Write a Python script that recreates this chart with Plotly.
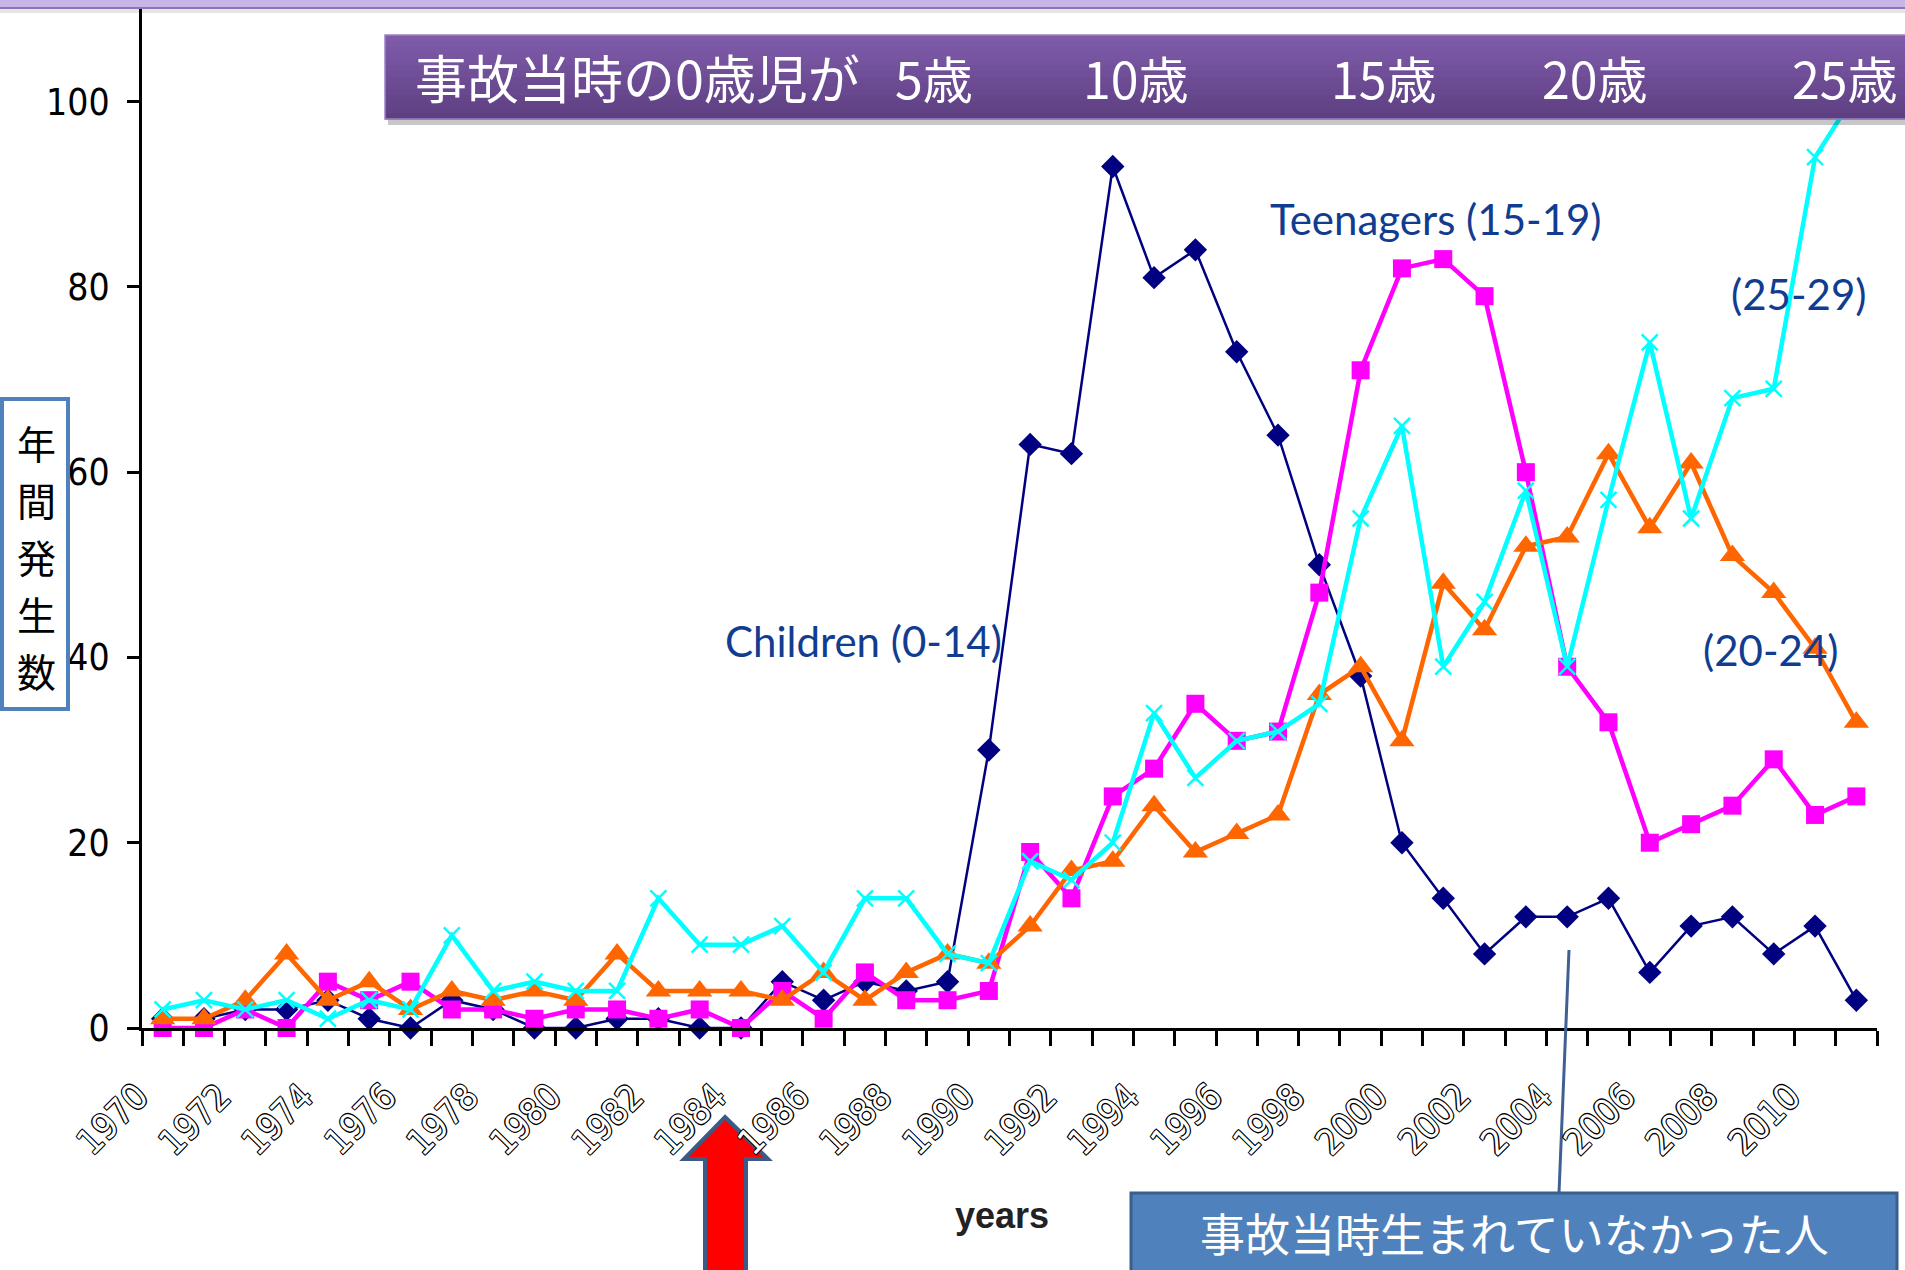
import plotly.graph_objects as go

# ---------------- data ----------------
years = list(range(1970, 2012))

children_0_14 = [1, 1, 2, 2, 3, 1, 0, 3, 2, 0,
                 0, 1, 1, 0, 0, 5, 3, 5, 4, 5,
                 30, 63, 62, 93, 81, 84, 73, 64, 50, 38,
                 20, 14, 8, 12, 12, 14, 6, 11, 12, 8,
                 11, 3]
teen_15_19 = [0, 0, 2, 0, 5, 3, 5, 2, 2, 1,
              2, 2, 1, 2, 0, 4, 1, 6, 3, 3,
              4, 19, 14, 25, 28, 35, 31, 32, 47, 71,
              82, 83, 79, 60, 39, 33, 20, 22, 24, 29,
              23, 25]
adult_20_24 = [1, 1, 3, 8, 3, 5, 2, 4, 3, 4,
               3, 8, 4, 4, 4, 3, 6, 3, 6, 8,
               7, 11, 17, 18, 24, 19, 21, 23, 36, 39,
               31, 48, 43, 52, 53, 62, 54, 61, 51, 47,
               41, 33]
adult_25_29 = [2, 3, 2, 3, 1, 3, 2, 10, 4, 5,
               4, 4, 14, 9, 9, 11, 6, 14, 14, 8,
               7, 18, 16, 20, 34, 27, 31, 32, 35, 55,
               65, 39, 46, 58, 39, 57, 74, 55, 68, 69,
               94, 101]

y_tick_values = [0, 20, 40, 60, 80, 100]
x_tick_labels = ["1970", "1972", "1974", "1976", "1978", "1980", "1982",
                 "1984", "1986", "1988", "1990", "1992", "1994", "1996",
                 "1998", "2000", "2002", "2004", "2006", "2008", "2010"]

series_names = ["Children (0-14)", "Teenagers (15-19)", "(20-24)", "(25-29)"]
banner_texts = ["事故当時の0歳児が", "5歳", "10歳", "15歳", "20歳", "25歳"]
y_title_chars = ["年", "間", "発", "生", "数"]
box_text = "事故当時生まれていなかった人"

# ---------------- geometry helpers (pixel -> paper) ----------------
W_PX, H_PX = 1905, 1270
L, R, T, B = 142, 1877, 9, 1028
PW, PH = R - L, B - T


def fx(p):
    return (p - L) / PW


def fy(p):
    return (B - p) / PH


LABEL_BLUE = "#123c8f"

fig = go.Figure()

fig.add_trace(go.Scatter(
    x=years, y=children_0_14, mode="lines+markers", name=series_names[0],
    line=dict(color="#000080", width=2.5),
    marker=dict(symbol="diamond", size=18, color="#000080"),
    cliponaxis=False))
fig.add_trace(go.Scatter(
    x=years, y=teen_15_19, mode="lines+markers", name=series_names[1],
    line=dict(color="#ff00ff", width=4.5),
    marker=dict(symbol="square", size=18, color="#ff00ff"),
    cliponaxis=False))
fig.add_trace(go.Scatter(
    x=years, y=adult_20_24, mode="lines+markers", name=series_names[2],
    line=dict(color="#ff6600", width=4.5),
    marker=dict(symbol="triangle-up", size=22, color="#ff6600"),
    cliponaxis=False))
fig.add_trace(go.Scatter(
    x=years, y=adult_25_29, mode="lines+markers", name=series_names[3],
    line=dict(color="#00ffff", width=4.5),
    marker=dict(symbol="x-thin", size=16, color="#00ffff",
                line=dict(width=2.5, color="#00ffff")),
    cliponaxis=False))

boundaries = [years[0] - 0.5 + k for k in range(len(years) + 1)]

fig.update_xaxes(
    range=[years[0] - 0.5, years[-1] + 0.5],
    showgrid=False, zeroline=False,
    showline=True, linecolor="black", linewidth=3,
    ticks="outside", tickvals=boundaries, ticklen=15, tickwidth=2.5,
    tickcolor="black", showticklabels=False)
fig.update_yaxes(
    range=[0, 110],
    showgrid=False, zeroline=False,
    showline=True, linecolor="black", linewidth=3,
    ticks="outside", tickvals=y_tick_values, ticklen=12, tickwidth=3,
    tickcolor="black", ticklabelstandoff=10,
    tickfont=dict(family="DejaVu Sans Condensed, Liberation Sans Narrow, sans-serif",
                  size=37, color="black"))

shapes = []
# top slide band
shapes.append(dict(type="rect", xref="paper", yref="paper",
                   x0=fx(0), x1=fx(W_PX), y0=fy(13), y1=fy(9),
                   fillcolor="rgba(0,0,0,0.10)", line=dict(width=0), layer="above"))
shapes.append(dict(type="rect", xref="paper", yref="paper",
                   x0=fx(0), x1=fx(W_PX), y0=fy(9), y1=fy(0),
                   fillcolor="#c9b6e8", line=dict(width=0), layer="above"))
shapes.append(dict(type="line", xref="paper", yref="paper",
                   x0=fx(0), x1=fx(W_PX), y0=fy(8), y1=fy(8),
                   line=dict(color="#8d74b8", width=2), layer="above"))

# purple banner (shadow + vertical gradient strips)
bx0, bx1, by0, by1 = 385, 1915, 35, 119
shapes.append(dict(type="rect", xref="paper", yref="paper",
                   x0=fx(bx0 + 3), x1=fx(bx1 + 3), y0=fy(by1 + 6), y1=fy(by0 + 4),
                   fillcolor="rgba(0,0,0,0.22)", line=dict(width=0), layer="above"))
n_strips = 14
c_top, c_bot = (127, 91, 170), (94, 64, 130)
for k in range(n_strips):
    t = k / (n_strips - 1)
    col = tuple(round(c_top[i] + (c_bot[i] - c_top[i]) * t) for i in range(3))
    ya = by0 + (by1 - by0) * k / n_strips
    yb = by0 + (by1 - by0) * (k + 1) / n_strips
    shapes.append(dict(type="rect", xref="paper", yref="paper",
                       x0=fx(bx0), x1=fx(bx1), y0=fy(yb + 0.5), y1=fy(ya),
                       fillcolor="rgb(%d,%d,%d)" % col, line=dict(width=0),
                       layer="above"))
shapes.append(dict(type="rect", xref="paper", yref="paper",
                   x0=fx(bx0), x1=fx(bx1), y0=fy(by1), y1=fy(by0),
                   fillcolor="rgba(0,0,0,0)", line=dict(color="#9a82c6", width=1.5),
                   layer="above"))

# y-title box
shapes.append(dict(type="rect", xref="paper", yref="paper",
                   x0=fx(2), x1=fx(68), y0=fy(709), y1=fy(399),
                   fillcolor="white", line=dict(color="#4f81bd", width=4),
                   layer="above"))

# red arrow
arrow_pts = [(725, 1117), (768, 1159), (746, 1159), (746, 1280),
             (705, 1280), (705, 1159), (684, 1159)]
path = "M " + " L ".join("%f,%f" % (fx(px), fy(py)) for px, py in arrow_pts) + " Z"
shapes.append(dict(type="path", xref="paper", yref="paper", path=path,
                   fillcolor="#ff0000", line=dict(color="#3b5a86", width=4),
                   layer="above"))

# connector line and blue box
shapes.append(dict(type="line", xref="paper", yref="paper",
                   x0=fx(1569), y0=fy(950), x1=fx(1559), y1=fy(1193),
                   line=dict(color="#3f6090", width=3), layer="above"))
shapes.append(dict(type="rect", xref="paper", yref="paper",
                   x0=fx(1131), x1=fx(1897), y0=fy(1285), y1=fy(1193),
                   fillcolor="#4f81bd", line=dict(color="#3a5f8b", width=3),
                   layer="above"))

annotations = []
# x tick labels (outlined look)
outline = "-1px -1px 0 #000, 1px -1px 0 #000, -1px 1px 0 #000, 1px 1px 0 #000"
for lab in x_tick_labels:
    annotations.append(dict(
        x=int(lab), y=0, xref="x", yref="y", text=lab, showarrow=False,
        xshift=-51, yshift=-91, textangle=-45, xanchor="center", yanchor="middle",
        font=dict(family="Liberation Sans Narrow, DejaVu Sans Condensed, sans-serif",
                  size=36, color="white", shadow=outline)))


def pix_note(px, py, text, font, **kw):
    d = dict(x=fx(px), y=fy(py), xref="paper", yref="paper", text=text,
             showarrow=False, xanchor="center", yanchor="middle", font=font)
    d.update(kw)
    return d


# axis title "years"
annotations.append(pix_note(1002, 1215, "<b>years</b>",
                            dict(family="Liberation Sans", size=36, color="#222222")))

# y title characters (stacked vertically)
for k, ch in enumerate(y_title_chars):
    annotations.append(pix_note(36, 442 + 57 * k, ch,
                                dict(family="Noto Sans CJK JP", size=39, color="black")))

# banner texts
banner_x = [637, 934, 1136, 1384, 1595, 1845]
banner_size = [52, 50, 50, 50, 50, 50]
for txt, bxp, fs in zip(banner_texts, banner_x, banner_size):
    annotations.append(pix_note(bxp, 77, txt,
                                dict(family="Noto Sans CJK JP", size=fs, color="white")))

# series labels
label_pos = [(863, 641), (1436, 219), (1770, 650), (1798, 294)]
for name, (lx, ly) in zip(series_names, label_pos):
    annotations.append(pix_note(lx, ly, name,
                                dict(family="Lato, Open Sans, sans-serif", size=42,
                                     color=LABEL_BLUE)))

# bottom box text
annotations.append(pix_note(1514, 1232, box_text,
                            dict(family="Noto Sans CJK JP", size=45, color="white")))

fig.update_layout(
    width=W_PX, height=H_PX, autosize=False,
    margin=dict(l=L, r=W_PX - R, t=T, b=H_PX - B, pad=0),
    paper_bgcolor="white", plot_bgcolor="white",
    showlegend=False, shapes=shapes, annotations=annotations)

fig.write_html("out.html", config={"displayModeBar": False},
               post_script="document.body.style.margin='0';document.body.style.overflow='hidden';")
